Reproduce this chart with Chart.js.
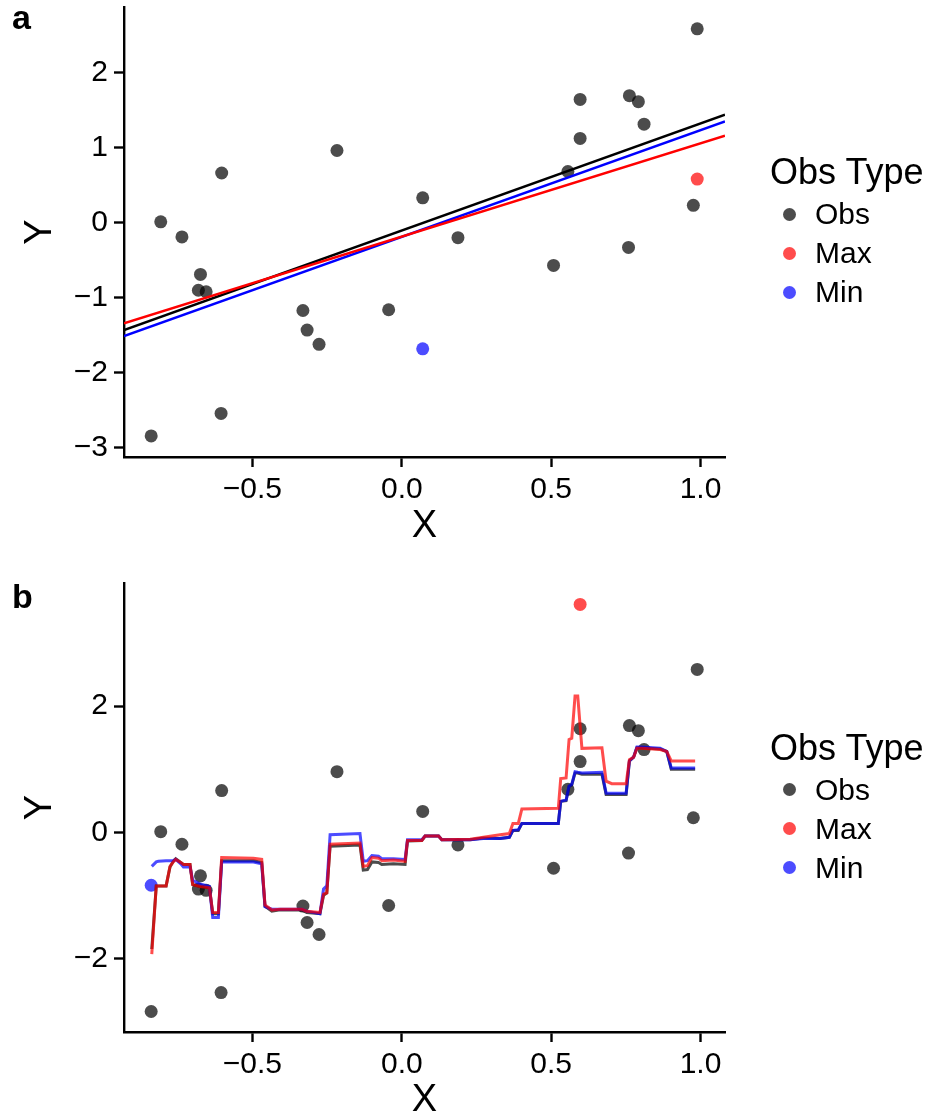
<!DOCTYPE html>
<html>
<head>
<meta charset="utf-8">
<script src="https://cdn.jsdelivr.net/npm/chart.js@4.4.1/dist/chart.umd.min.js"></script>
<style>
  body { margin: 0; background: #fff; width: 932px; height: 1120px; position: relative; overflow: hidden;
         font-family: "Liberation Sans", Arial, sans-serif; color: #000; }
  canvas { position: absolute; left: 0; }
  #chartA { top: 0; }
  #chartB { top: 560px; }
  .tag { position: absolute; left: 12px; font-weight: bold; font-size: 34px; line-height: 34px; }
  .leg-title { position: absolute; left: 770px; font-size: 36px; line-height: 40px; white-space: nowrap; }
  .leg-text { position: absolute; left: 815px; font-size: 30px; line-height: 34px; white-space: nowrap; }
  .leg-dot { position: absolute; width: 13px; height: 13px; border-radius: 50%; left: 783px; }
</style>
</head>
<body>
<canvas id="chartA" width="932" height="560"></canvas>
<canvas id="chartB" width="932" height="560"></canvas>
<div class="tag" style="top:0px">a</div>
<div class="tag" style="top:579px">b</div>
<script>
// observed points (shared by both panels)
const obsX = [-0.839, -0.807, -0.736, -0.674, -0.681, -0.655, -0.603, -0.605, -0.331, -0.317, -0.277, -0.217, -0.044,
              0.070, 0.188, 0.508, 0.556, 0.597, 0.597, 0.759, 0.762, 0.792, 0.811, 0.989, 0.976];
const obsY = [-2.84, 0.01, -0.19, -0.69, -0.90, -0.92, 0.66, -2.54, -1.17, -1.43, -1.62, 0.96, -1.16,
              0.33, -0.20, -0.57, 0.68, 1.64, 1.12, -0.33, 1.69, 1.61, 1.31, 2.58, 0.23];

// panel a: extreme points and fitted lines (ends of the axis range)
const maxA = { x: 0.989, y: 0.58 };
const minA = { x: 0.070, y: -1.68 };
const lineXA = [-0.93, 1.082];
const lineObsA = [-1.43, 1.436];
const lineMaxA = [-1.341, 1.156];
const lineMinA = [-1.51, 1.347];

// panel b: extreme points and fitted step curves
const maxB = { x: 0.597, y: 3.61 };
const minB = { x: -0.839, y: -0.84 };
const fitX = [-0.837, -0.822, -0.815, -0.789, -0.776, -0.765, -0.757, -0.740, -0.731, -0.709, -0.700, -0.675, -0.644,
              -0.633, -0.614, -0.603, -0.497, -0.469, -0.458, -0.435, -0.407, -0.335, -0.318, -0.274, -0.262, -0.251,
              -0.240, -0.140, -0.129, -0.115, -0.100, -0.078, -0.067, -0.028, 0.011, 0.019, 0.067, 0.078, 0.123,
              0.134, 0.229, 0.273, 0.329, 0.360, 0.372, 0.390, 0.402, 0.524, 0.532, 0.550, 0.560, 0.569, 0.580,
              0.589, 0.603, 0.670, 0.684, 0.703, 0.751, 0.762, 0.776, 0.787, 0.802, 0.865, 0.887, 0.902, 0.982];
const fitObs = [-1.85, -0.85, -0.85, -0.85, -0.55, -0.46, -0.42, -0.48, -0.51, -0.51, -0.83, -0.86, -0.88,
                -1.29, -1.29, -0.45, -0.45, -0.48, -1.17, -1.25, -1.23, -1.23, -1.27, -1.29, -1.00, -0.96,
                -0.22, -0.20, -0.60, -0.59, -0.47, -0.48, -0.51, -0.50, -0.51, -0.14, -0.13, -0.06, -0.06,
                -0.12, -0.12, -0.09, -0.10, -0.08, 0.03, 0.03, 0.14, 0.14, 0.49, 0.50, 0.73, 0.75, 0.94,
                0.94, 0.92, 0.92, 0.60, 0.60, 0.60, 1.13, 1.19, 1.34, 1.34, 1.32, 1.28, 1.00, 1.00];
const fitMax = [-1.93, -0.85, -0.85, -0.85, -0.54, -0.47, -0.43, -0.48, -0.51, -0.51, -0.83, -0.86, -0.88,
                -1.27, -1.27, -0.40, -0.41, -0.43, -1.15, -1.23, -1.22, -1.22, -1.25, -1.27, -0.98, -0.96,
                -0.19, -0.17, -0.54, -0.53, -0.40, -0.41, -0.45, -0.44, -0.46, -0.13, -0.13, -0.06, -0.06,
                -0.12, -0.11, -0.08, -0.04, -0.02, 0.14, 0.14, 0.37, 0.38, 0.85, 0.86, 1.47, 1.49, 2.16,
                2.16, 1.33, 1.34, 0.81, 0.77, 0.77, 1.15, 1.19, 1.33, 1.33, 1.31, 1.28, 1.13, 1.13];
const fitMin = [-0.54, -0.47, -0.46, -0.45, -0.45, -0.45, -0.43, -0.50, -0.55, -0.55, -0.76, -0.82, -0.86,
                -1.35, -1.35, -0.47, -0.47, -0.50, -1.18, -1.22, -1.22, -1.22, -1.25, -1.29, -0.90, -0.85,
                -0.04, -0.02, -0.46, -0.45, -0.37, -0.38, -0.42, -0.42, -0.43, -0.12, -0.12, -0.06, -0.06,
                -0.12, -0.12, -0.10, -0.10, -0.08, 0.03, 0.04, 0.14, 0.14, 0.49, 0.51, 0.73, 0.76, 0.96,
                0.95, 0.94, 0.95, 0.62, 0.62, 0.62, 1.13, 1.19, 1.35, 1.35, 1.33, 1.28, 1.02, 1.02];

// axes
const xTicks = [-0.5, 0, 0.5, 1.0];
const xTickLabels = ['\u22120.5', '0.0', '0.5', '1.0'];
const yTicksA = [-3, -2, -1, 0, 1, 2];
const yTickLabelsA = ['\u22123', '\u22122', '\u22121', '0', '1', '2'];
const yTicksB = [-2, 0, 2];
const yTickLabelsB = ['\u22122', '0', '2'];

const legendLabels = ['Obs', 'Max', 'Min'];
const colObs = 'rgba(0,0,0,0.7)';
const colMax = 'rgba(255,0,0,0.7)';
const colMin = 'rgba(0,0,255,0.7)';
const legendColors = [colObs, colMax, colMin];

Chart.defaults.font.family = '"Liberation Sans", Arial, sans-serif';
Chart.defaults.color = '#000';

const pts = (xs, ys) => xs.map((x, i) => ({ x: x, y: ys[i] }));

function pointSet(data, color, order) {
  return { type: 'scatter', data: data, backgroundColor: color, borderWidth: 0, pointRadius: 6.5,
           pointHoverRadius: 6.5, order: order };
}
function lineSet(xs, ys, color, width, order) {
  return { type: 'line', data: pts(xs, ys), borderColor: color, borderWidth: width, pointRadius: 0,
           tension: 0, fill: false, order: order };
}

function axis(min, max, ticks, labels, isX, boxSize, titlePad) {
  return {
    type: 'linear', min: min, max: max,
    afterBuildTicks: s => { s.ticks = ticks.map(v => ({ value: v })); },
    afterFit: s => {
      if (isX) { s.height = boxSize; s.paddingLeft = 0; s.paddingRight = 0; }
      else { s.width = boxSize; s.paddingTop = 0; s.paddingBottom = 0; }
    },
    ticks: { callback: (v, i) => labels[i], font: { size: 30 }, color: '#000', padding: isX ? 5 : 6 },
    grid: { drawOnChartArea: false, drawTicks: true, tickLength: 10, tickWidth: 2.4, tickColor: '#000' },
    border: { display: true, color: '#000', width: 2.4 },
    title: { display: true, text: isX ? 'X' : 'Y', color: '#000', font: { size: 38, lineHeight: 1 },
             padding: isX ? { top: 0, bottom: titlePad } : { top: titlePad, bottom: 0 } }
  };
}

function makeChart(id, datasets, yMin, yMax, yTicks, yLabels, padTop, xBox, xTitlePad) {
  return new Chart(document.getElementById(id), {
    data: { datasets: datasets },
    options: {
      responsive: false, animation: false, devicePixelRatio: 1,
      layout: { autoPadding: false, padding: { top: padTop, right: 207, bottom: 0, left: 0 } },
      plugins: { legend: { display: false }, tooltip: { enabled: false } },
      scales: {
        x: axis(-0.93, 1.082, xTicks, xTickLabels, true, xBox, xTitlePad),
        y: axis(yMin, yMax, yTicks, yLabels, false, 124, 22)
      }
    }
  });
}

makeChart('chartA', [
  lineSet(lineXA, lineObsA, '#000000', 2.5, 2),
  lineSet(lineXA, lineMaxA, '#ff0000', 2.5, 1),
  lineSet(lineXA, lineMinA, '#0000ff', 2.5, 3),
  pointSet(pts(obsX, obsY), colObs, 6),
  pointSet([maxA], colMax, 5),
  pointSet([minA], colMin, 4)
], -3.12, 2.87, yTicksA, yTickLabelsA, 7, 103, 14);

makeChart('chartB', [
  lineSet(fitX, fitMax, colMax, 3, 1),
  lineSet(fitX, fitMin, colMin, 3, 2),
  lineSet(fitX, fitObs, colObs, 3, 3),
  pointSet(pts(obsX, obsY), colObs, 6),
  pointSet([maxB], colMax, 5),
  pointSet([minB], colMin, 4)
], -3.165, 3.95, yTicksB, yTickLabelsB, 23, 88, 0);

// legends, placed beside each panel
function buildLegend(centerY) {
  const title = document.createElement('div');
  title.className = 'leg-title';
  title.textContent = 'Obs Type';
  title.style.top = (centerY - 60 - 20) + 'px';
  document.body.appendChild(title);
  legendLabels.forEach((lab, i) => {
    const cy = centerY - 18 + i * 39;
    const dot = document.createElement('div');
    dot.className = 'leg-dot';
    dot.style.background = legendColors[i];
    dot.style.top = (cy - 6.5) + 'px';
    document.body.appendChild(dot);
    const txt = document.createElement('div');
    txt.className = 'leg-text';
    txt.textContent = lab;
    txt.style.top = (cy - 17) + 'px';
    document.body.appendChild(txt);
  });
}
buildLegend(232);
buildLegend(807.5);
</script>
</body>
</html>
